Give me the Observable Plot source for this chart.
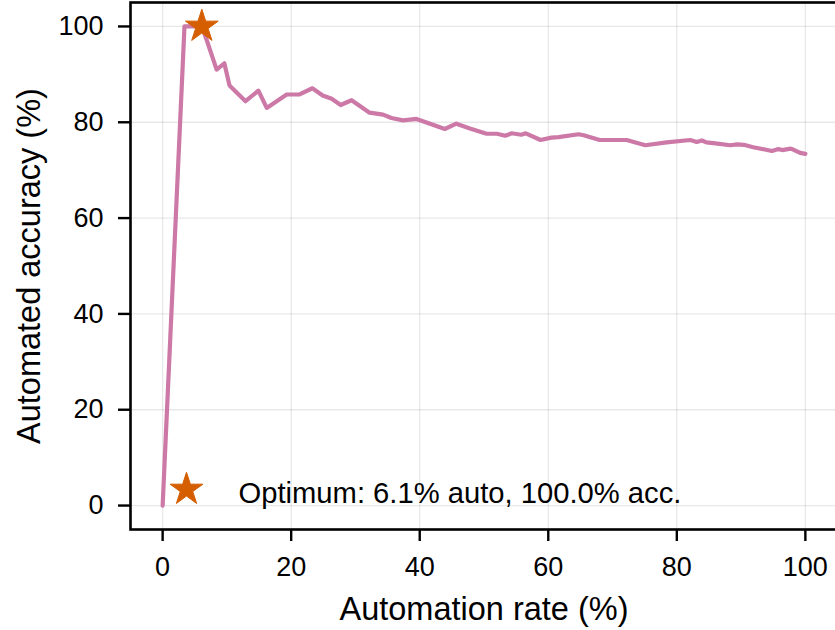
<!DOCTYPE html>
<html>
<head>
<meta charset="utf-8">
<script src="https://cdn.jsdelivr.net/npm/d3@7"></script>
<script src="https://cdn.jsdelivr.net/npm/@observablehq/plot@0.6"></script>
<style>
  html, body { margin: 0; padding: 0; background: #fff; overflow: hidden; }
  #chart { width: 835px; height: 630px; overflow: hidden; }
  #chart svg { max-width: none !important; }
</style>
</head>
<body>
<div id="chart"></div>
<script>
// Automation rate (%) and automated accuracy (%)
const automationRate = [0, 3.4, 6.1, 7.0, 8.4, 9.6, 10.4, 12.9, 14.9, 16.2, 19.3, 21.3, 23.3, 24.9, 26.3, 27.7, 29.4, 32.2, 34.3, 35.6, 37.4, 39.5, 41.6, 43.9, 45.7, 47.8, 50.4, 52.0, 53.3, 54.3, 55.8, 56.5, 58.8, 60.5, 61.6, 64.7, 65.5, 68.0, 72.2, 75.1, 78.4, 82.1, 83.1, 83.9, 84.6, 86.0, 88.3, 89.4, 90.4, 91.9, 94.8, 95.8, 96.4, 97.7, 98.1, 99.2, 100];
const automatedAccuracy = [0, 100, 100, 96.6, 91.0, 92.3, 87.7, 84.4, 86.6, 83.0, 85.8, 85.8, 87.1, 85.6, 84.9, 83.6, 84.6, 82.0, 81.6, 80.9, 80.4, 80.7, 79.7, 78.6, 79.7, 78.7, 77.6, 77.6, 77.2, 77.7, 77.4, 77.7, 76.3, 76.8, 76.9, 77.5, 77.3, 76.3, 76.3, 75.2, 75.8, 76.3, 75.9, 76.2, 75.8, 75.6, 75.2, 75.4, 75.3, 74.8, 74.0, 74.4, 74.2, 74.5, 74.3, 73.6, 73.4];
const optimumRate = 6.1;
const optimumAccuracy = 100.0;
const xTicks = [0, 20, 40, 60, 80, 100];
const yTicks = [0, 20, 40, 60, 80, 100];
const xLabel = "Automation rate (%)";
const yLabel = "Automated accuracy (%)";

const curve = automationRate.map((x, i) => ({x, y: automatedAccuracy[i]}));
const optimum = [{x: optimumRate, y: optimumAccuracy}];
const legendText = `Optimum: ${optimumRate.toFixed(1)}% auto, ${optimumAccuracy.toFixed(1)}% acc.`;

const LINE = "#CC79A7";
const STAR = "#D55E00";

const chart = Plot.plot({
  width: 838,
  height: 630,
  marginLeft: 130,
  marginRight: 1,
  marginTop: 2,
  marginBottom: 101,
  style: {fontFamily: "'Liberation Sans', Arial, sans-serif", background: "#fff", color: "#000", maxWidth: "none"},
  x: {domain: [-5, 105], label: null},
  y: {domain: [-5, 105], label: null},
  marks: [
    Plot.gridX(xTicks, {stroke: "#000", strokeOpacity: 0.09, strokeWidth: 1.3}),
    Plot.gridY(yTicks, {stroke: "#000", strokeOpacity: 0.09, strokeWidth: 1.3}),
    Plot.line(curve, {x: "x", y: "y", stroke: LINE, strokeWidth: 4.2, strokeLinejoin: "round"}),
    Plot.dot(optimum, {x: "x", y: "y", symbol: "star", r: 10.3, fill: STAR, stroke: STAR, strokeWidth: 1, strokeLinejoin: "round"}),
    Plot.axisX(xTicks, {tickSize: 12, tickPadding: 15, fontSize: 27, strokeWidth: 2.4, label: null}),
    Plot.axisY(yTicks, {tickSize: 12, tickPadding: 15, fontSize: 27, strokeWidth: 2.4, label: null}),
    Plot.frame({stroke: "#000", strokeWidth: 2.6}),
    // legend
    Plot.dot([legendText], {frameAnchor: "bottom-left", dx: 56, dy: -40, symbol: "star", r: 10.3, fill: STAR, stroke: STAR, strokeWidth: 1, strokeLinejoin: "round"}),
    Plot.text([legendText], {text: d => d, frameAnchor: "bottom-left", dx: 108, dy: -36, textAnchor: "start", lineAnchor: "middle", fontSize: 29.2, fill: "#000"}),
    // axis titles
    Plot.text([xLabel], {text: d => d, frameAnchor: "bottom", dy: 67, textAnchor: "middle", lineAnchor: "top", fontSize: 32.5, fill: "#000"}),
    Plot.text([yLabel], {text: d => d, frameAnchor: "left", dx: -91, rotate: -90, textAnchor: "middle", lineAnchor: "bottom", fontSize: 32.5, fill: "#000"})
  ]
});
document.getElementById("chart").appendChild(chart);
</script>
</body>
</html>
